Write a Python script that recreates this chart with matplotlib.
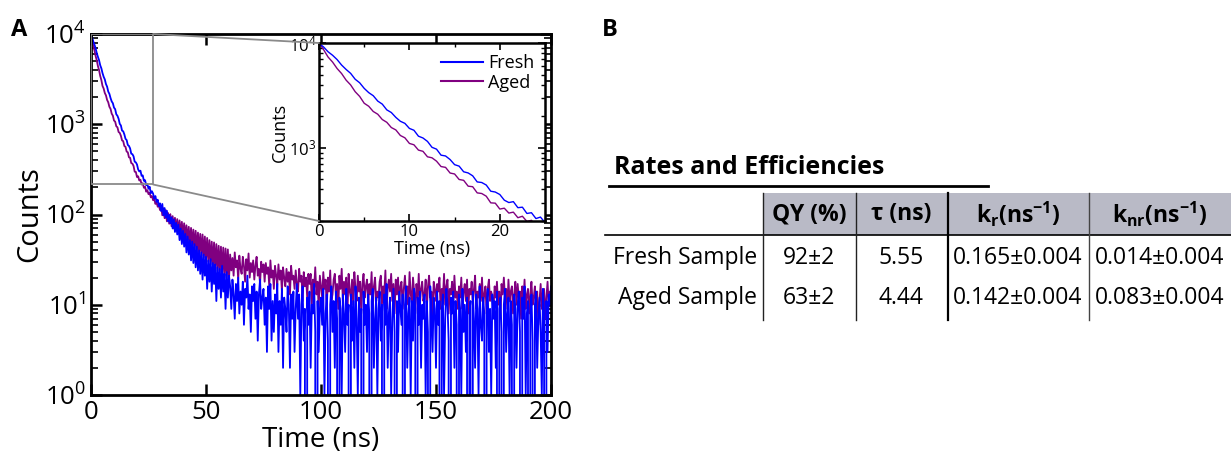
import numpy as np
import matplotlib.pyplot as plt
from matplotlib.patches import Rectangle, ConnectionPatch
from matplotlib.ticker import LogLocator, MultipleLocator, NullFormatter
from matplotlib.lines import Line2D

plt.rcParams['font.family'] = ['Open Sans', 'DejaVu Sans']
plt.rcParams['mathtext.fontset'] = 'custom'
plt.rcParams['mathtext.rm'] = 'Open Sans'
plt.rcParams['mathtext.bf'] = 'Open Sans:bold'
plt.rcParams['mathtext.it'] = 'Open Sans:italic'

# TCSPC decay histograms, 0.5 ns bins, 0 - 200 ns
bin_ns = 0.5
fresh_counts = [
    9900, 9180, 8250, 7640, 6950, 6160, 5590, 5130, 4510, 4170,
    3690, 3360, 3140, 2790, 2610, 2300, 2170, 1950, 1790, 1710,
    1530, 1470, 1290, 1240, 1150, 1010, 970, 850, 835, 772,
    690, 668, 590, 575, 540, 472, 466, 441, 385, 378,
    358, 316, 300, 306, 268, 271, 236, 240, 211, 218,
    193, 203, 172, 181, 170, 150, 160, 138, 146, 124,
    133, 109, 131, 98, 118, 92, 110, 84, 99, 80,
    93, 70, 88, 64, 81, 60, 77, 52, 70, 47,
    66, 44, 61, 38, 57, 36, 52, 31, 50, 29,
    47, 26, 44, 24, 40, 22, 38, 19, 36, 21,
    34, 15, 31, 18, 32, 14, 29, 17, 28, 11,
    26, 15, 25, 12, 27, 14, 22, 9, 23, 12,
    21, 16, 9, 19, 13, 7, 17, 11, 20, 8,
    14, 10, 18, 6, 15, 12, 21, 9, 13, 5,
    16, 11, 17, 7, 14, 4, 13, 19, 9, 12,
    15, 6, 12, 3, 16, 9, 17, 4, 11, 5,
    13, 8, 17, 3, 11, 6, 15, 2, 12, 9,
    5, 16, 10, 2, 13, 7, 14, 3, 9, 17,
    7, 13, 1, 10, 16, 4, 9, 0, 12, 6,
    14, 2, 10, 8, 17, 5, 0, 11, 3, 9,
    12, 6, 15, 1, 8, 13, 4, 0, 10, 16,
    5, 11, 2, 14, 7, 0, 12, 9, 1, 13,
    8, 3, 15, 6, 10, 0, 13, 4, 11, 2,
    16, 7, 1, 12, 5, 9, 0, 14, 6, 10,
    3, 13, 8, 0, 11, 15, 2, 7, 12, 1,
    9, 14, 4, 10, 0, 13, 6, 17, 2, 8,
    12, 1, 7, 15, 5, 0, 11, 3, 14, 9,
    6, 13, 0, 10, 16, 2, 8, 12, 1, 11,
    4, 15, 9, 0, 12, 6, 14, 2, 10, 7,
    13, 1, 11, 5, 0, 16, 8, 3, 12, 9,
    2, 14, 6, 11, 0, 9, 13, 1, 7, 15,
    10, 4, 0, 12, 8, 14, 2, 11, 6, 0,
    13, 9, 1, 15, 5, 10, 3, 12, 0, 8,
    11, 0, 14, 7, 2, 13, 9, 1, 16, 6,
    4, 12, 8, 0, 10, 15, 3, 9, 1, 13,
    7, 11, 2, 14, 0, 9, 12, 5, 0, 10,
    15, 3, 8, 12, 1, 11, 6, 0, 13, 9,
    2, 10, 14, 5, 0, 12, 7, 16, 1, 8,
    11, 0, 9, 13, 4, 0, 10, 14, 2, 7,
    12, 5, 1, 15, 8, 0, 11, 3, 13, 10,
    16,
]
aged_counts = [
    9950, 8660, 7350, 6580, 5710, 5110, 4420, 3980, 3430, 3090,
    2660, 2490, 2220, 2090, 1860, 1750, 1560, 1480, 1310, 1245,
    1100, 1068, 950, 925, 820, 802, 745, 662, 650, 574,
    562, 498, 489, 430, 425, 371, 366, 345, 298, 296,
    260, 265, 238, 243, 215, 222, 198, 203, 179, 186,
    168, 174, 155, 160, 144, 149, 131, 137, 122, 127,
    112, 124, 98, 117, 91, 112, 84, 104, 79, 101,
    74, 96, 70, 92, 66, 89, 63, 86, 58, 83,
    56, 80, 54, 76, 49, 73, 47, 71, 44, 68,
    42, 66, 39, 63, 37, 61, 35, 60, 33, 57,
    31, 55, 30, 52, 28, 50, 27, 49, 25, 47,
    24, 45, 23, 44, 22, 43, 21, 42, 20, 41,
    19, 36, 24, 33, 21, 38, 26, 31, 19, 35,
    25, 22, 34, 27, 18, 32, 24, 37, 20, 29,
    23, 31, 19, 27, 34, 21, 25, 17, 30, 23,
    28, 18, 29, 22, 26, 16, 31, 20, 24, 15,
    27, 21, 17, 28, 19, 24, 14, 26, 20, 16,
    25, 18, 23, 13, 27, 19, 21, 15, 24, 17,
    14, 25, 18, 21, 11, 23, 16, 20, 12, 22,
    17, 22, 10, 19, 15, 26, 13, 18, 9, 21,
    16, 12, 23, 15, 19, 9, 20, 14, 24, 11,
    13, 19, 22, 12, 17, 9, 21, 15, 25, 11,
    18, 13, 20, 8, 22, 14, 12, 19, 10, 23,
    15, 11, 21, 14, 18, 8, 17, 22, 12, 16,
    19, 10, 17, 13, 23, 9, 16, 20, 11, 14,
    12, 18, 21, 10, 16, 13, 24, 9, 15, 19,
    14, 22, 11, 17, 8, 19, 13, 20, 10, 16,
    18, 9, 15, 21, 12, 16, 10, 23, 13, 11,
    20, 14, 8, 17, 12, 22, 10, 15, 18, 11,
    13, 19, 9, 16, 21, 12, 14, 7, 18, 15,
    11, 17, 14, 20, 9, 15, 12, 22, 10, 16,
    19, 8, 15, 13, 18, 10, 21, 12, 14, 9,
    16, 12, 20, 9, 14, 17, 11, 19, 8, 15,
    13, 18, 10, 15, 21, 9, 14, 12, 17, 11,
    20, 10, 13, 16, 8, 15, 19, 11, 14, 12,
    9, 16, 12, 18, 10, 14, 7, 17, 13, 20,
    12, 15, 9, 19, 11, 14, 16, 8, 13, 18,
    10, 17, 12, 14, 7, 16, 11, 19, 9, 13,
    15, 8, 13, 18, 10, 12, 16, 9, 14, 6,
    11, 17, 9, 13, 15, 7, 12, 18, 10, 14,
    11,
]
time_ns = np.arange(len(fresh_counts)) * bin_ns

# inset / zoom window
zoom_t = 27
zoom_lo = 215

# table
title_b = 'Rates and Efficiencies'
row_labels = ['Fresh Sample', 'Aged Sample']
col_labels = ['QY (%)', 'τ (ns)', r'$\mathbf{k_r(ns^{-1})}$', r'$\mathbf{k_{nr}(ns^{-1})}$']
qy = ['92±2', '63±2']
tau = ['5.55', '4.44']
k_r = ['0.165±0.004', '0.142±0.004']
k_nr = ['0.014±0.004', '0.083±0.004']

c_fresh = '#0000ff'
c_aged = '#800080'
W, H = 1231, 458

fig = plt.figure(figsize=(W / 100, H / 100), dpi=100)

# ---- panel A main
ax = fig.add_axes([91 / W, 1 - 395 / H, 460 / W, 361 / H])
ax.plot(time_ns, aged_counts, color=c_aged, lw=1.3)
ax.plot(time_ns, fresh_counts, color=c_fresh, lw=1.3)
ax.set_yscale('log')
ax.set_xlim(0, 200)
ax.set_ylim(1, 1e4)
ax.set_xticks([0, 50, 100, 150, 200])
ax.yaxis.set_minor_locator(LogLocator(base=10, subs=np.arange(2, 10)))
ax.yaxis.set_minor_formatter(NullFormatter())
ax.tick_params(which='both', direction='in', top=True, right=True, labelsize=18.5)
ax.tick_params(which='major', length=8, width=1.8)
ax.tick_params(which='minor', length=5, width=1.2)
for s in ax.spines.values():
    s.set_linewidth(2)
ax.set_xlabel('Time (ns)', fontsize=20, labelpad=1)
ax.set_ylabel('Counts', fontsize=21, labelpad=0)

ax.add_patch(Rectangle((0, zoom_lo), zoom_t, 1e4 - zoom_lo, fill=False,
                       ec='#8a8a8a', lw=1.3, zorder=5))

# ---- inset
axin = fig.add_axes([319 / W, 1 - 221 / H, 226 / W, 178 / H])
axin.plot(time_ns, aged_counts, color=c_aged, lw=1.0)
axin.plot(time_ns, fresh_counts, color=c_fresh, lw=1.0)
axin.set_yscale('log')
axin.set_xlim(0, 25)
axin.set_ylim(200, 1e4)
axin.set_xticks([0, 10, 20])
axin.xaxis.set_minor_locator(MultipleLocator(5))
axin.yaxis.set_minor_locator(LogLocator(base=10, subs=np.arange(2, 10)))
axin.yaxis.set_minor_formatter(NullFormatter())
axin.tick_params(which='both', direction='in', top=True, right=True, labelsize=12, pad=2)
axin.tick_params(which='major', length=5, width=1.2)
axin.tick_params(which='minor', length=3, width=1)
for s in axin.spines.values():
    s.set_linewidth(1.8)
axin.set_xlabel('Time (ns)', fontsize=13, labelpad=0)
axin.set_ylabel('Counts', fontsize=13, labelpad=0)
handles = [Line2D([], [], color=c_fresh, lw=1.5), Line2D([], [], color=c_aged, lw=1.5)]
axin.legend(handles, ['Fresh', 'Aged'], loc='upper right', frameon=False, fontsize=13,
            handlelength=2.3, handletextpad=0.3, labelspacing=0.1, borderaxespad=0.2)

for xa, xb in [((zoom_t, 1e4), (0, 1)), ((zoom_t, zoom_lo), (0, 0))]:
    fig.add_artist(ConnectionPatch(xyA=xa, coordsA=ax.transData, xyB=xb, coordsB=axin.transAxes,
                                   color='#8a8a8a', lw=1.3))

# ---- panel labels
fig.text(11 / W, 1 - 30 / H, 'A', fontsize=17, fontweight='bold', va='center')
fig.text(602 / W, 1 - 30 / H, 'B', fontsize=17, fontweight='bold', va='center')

# ---- panel B table (pixel coordinates)
tb = fig.add_axes([0, 0, 1, 1], zorder=-1)
tb.set_xlim(0, W)
tb.set_ylim(H, 0)
tb.axis('off')

tb.text(614, 168, title_b, fontsize=18, fontweight='bold', va='center', ha='left')
tb.plot([609, 988], [186, 186], color='black', lw=2)
tb.add_patch(Rectangle((763, 193), W - 763, 42, color='#b9bac6', lw=0))
tb.plot([605, W], [235, 235], color='black', lw=1.2)
for xv, c, lw in [(763, '#222222', 1.0), (855.5, '#222222', 1.0), (948, 'black', 1.6), (1089, '#444444', 1.0)]:
    tb.plot([xv, xv], [193, 320], color=c, lw=lw)

col_x = [809, 901, 1018, 1160]
for x, lab in zip(col_x, col_labels):
    tb.text(x, 214, lab, fontsize=16.5, fontweight='bold', ha='center', va='center')

row_y = [258, 298]
for i, y in enumerate(row_y):
    tb.text(757, y, row_labels[i], fontsize=16.5, ha='right', va='center')
    for x, vals in zip(col_x, [qy, tau, k_r, k_nr]):
        tb.text(x, y, vals[i], fontsize=16.5, ha='center', va='center')

fig.savefig('out.png', dpi=100)
